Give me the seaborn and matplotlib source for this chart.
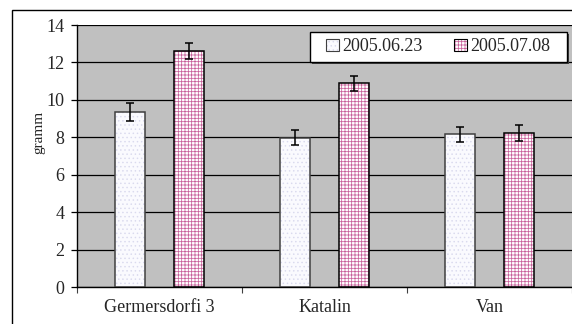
import matplotlib
matplotlib.use('Agg')
import matplotlib.pyplot as plt
import pandas as pd
import seaborn as sns
from matplotlib.patches import Patch, Rectangle
from matplotlib.ticker import FixedLocator

# Data
varieties = ['Germersdorfi 3', 'Katalin', 'Van']
dates = ['2005.06.23', '2005.07.08']
mass_0623 = [9.36, 7.98, 8.15]
mass_0708 = [12.6, 10.9, 8.22]
err_0623 = [0.47, 0.41, 0.42]
err_0708 = [0.42, 0.40, 0.41]

df = pd.DataFrame({
    'variety': varieties * 2,
    'date': [dates[0]] * 3 + [dates[1]] * 3,
    'mass': mass_0623 + mass_0708,
    'err': err_0623 + err_0708,
})

sns.set_style('white')
plt.rcParams['font.family'] = ['Liberation Serif', 'DejaVu Serif']
plt.rcParams['hatch.linewidth'] = 0.55

pink = '#C8609A'

fig = plt.figure(figsize=(5.72, 3.24), dpi=100)
ax = fig.add_axes([77 / 572, 1 - 287 / 324, 495 / 572, 262 / 324])
ax.set_facecolor('#C0C0C0')

sns.barplot(data=df, x='variety', y='mass', hue='date', hue_order=dates,
            palette=['white', 'white'], errorbar=None, width=0.727, gap=0.5,
            legend=False, ax=ax, zorder=2)

bars = ax.patches[:]
for i, p in enumerate(bars):
    if i < 3:
        p.set_facecolor('#FAFAFE')
        p.set_edgecolor('#DADAEE')
        p.set_hatch('....')
        p.set_linewidth(0)
        ec = '#404040'
    else:
        p.set_facecolor('white')
        p.set_edgecolor(pink)
        p.set_hatch('+++++')
        p.set_linewidth(0)
        ec = 'black'
    ax.add_patch(Rectangle(p.get_xy(), p.get_width(), p.get_height(),
                           fill=False, ec=ec, lw=1.1, zorder=3))

# error bars
xs = [p.get_x() + p.get_width() / 2 for p in bars]
ax.errorbar(xs, df['mass'], yerr=df['err'], fmt='none', ecolor='black',
            elinewidth=1.1, capsize=2.6, capthick=1.1, zorder=4)

ax.set_ylim(0, 14)
ax.set_xlim(-0.5, 2.5)
ax.set_yticks(range(0, 15, 2))
ax.yaxis.grid(True, color='black', linewidth=0.9, zorder=0)
ax.set_axisbelow(True)
ax.xaxis.set_minor_locator(FixedLocator([-0.5, 0.5, 1.5, 2.5]))
ax.tick_params(axis='x', which='major', length=0, pad=8.5, labelsize=13)
ax.tick_params(axis='x', which='minor', length=4, width=0.8, color='#404040',
               direction='out', bottom=True)
ax.tick_params(axis='y', length=4, width=0.9, color='black', direction='out',
               left=True, pad=5, labelsize=13)

ax.set_xlabel('')
ax.set_ylabel('gramm', fontsize=11)
ax.yaxis.set_label_coords(-0.064, 0.59)

for side in ['top', 'right']:
    ax.spines[side].set_visible(False)
for side in ['left', 'bottom']:
    ax.spines[side].set_color('black')
    ax.spines[side].set_linewidth(1)

# legend box (frame drawn separately to get Excel-like padding)
lx0, ly0, lw, lh = 0.4707, 0.8588, 0.5192, 0.1145
ax.add_patch(Rectangle((lx0 + 0.004, ly0 - 0.008), lw, lh, transform=ax.transAxes,
                       fc='#404040', ec='none', zorder=5))
ax.add_patch(Rectangle((lx0, ly0), lw, lh, transform=ax.transAxes,
                       fc='white', ec='black', lw=1, zorder=6))
h1 = (Patch(facecolor='#FAFAFE', edgecolor='#DADAEE', hatch='....', lw=0),
      Patch(fill=False, edgecolor='#404040', lw=0.8))
h2 = (Patch(facecolor='white', edgecolor=pink, hatch='+++++', lw=0),
      Patch(fill=False, edgecolor='black', lw=0.8))
leg = ax.legend([h1, h2], dates, ncol=2, loc='center',
                bbox_to_anchor=(lx0 + lw / 2, ly0 + lh / 2), fontsize=13,
                frameon=False, handlelength=0.7, handleheight=0.7,
                handletextpad=0.2, columnspacing=1.75, borderpad=0,
                borderaxespad=0)
leg.set_zorder(7)

# outer chart frame
fig.patches.append(Rectangle((12 / 572, -0.1), 1.2, 1.1 - 10 / 324,
                             transform=fig.transFigure, fill=False,
                             ec='black', lw=1))

fig.savefig('out.png', dpi=100)
